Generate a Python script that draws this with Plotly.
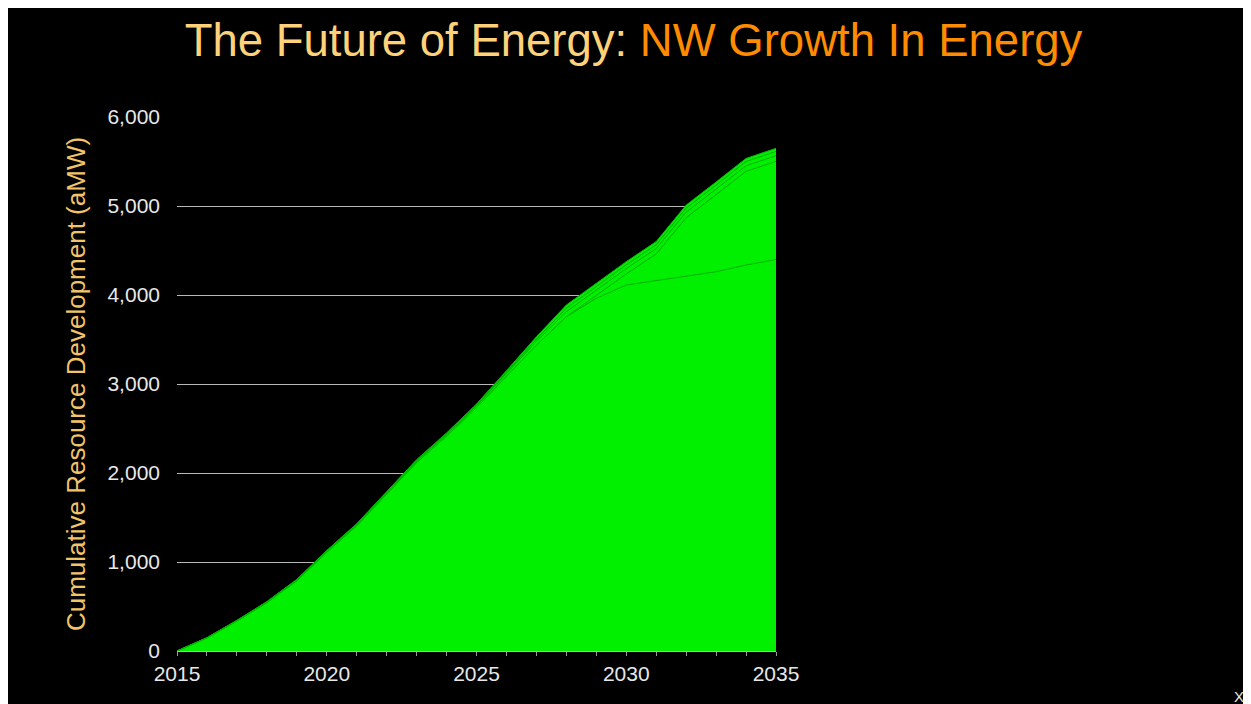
import plotly.graph_objects as go

years = list(range(2015, 2036))

# Stacked layers (aMW), bottom to top
layer1 = [0, 146, 337, 543, 789, 1110, 1406, 1762, 2118, 2414, 2735, 3088, 3436, 3757, 3963, 4112, 4160, 4210, 4262, 4337, 4400]
layer2 = [0, 0, 0, 0, 0, 0, 0, 0, 0, 0, 0, 0, 0, 0, 38, 125, 302, 659, 866, 1053, 1101]
layer3 = [0, 2, 4, 6, 8, 10, 12, 14, 16, 18, 20, 30, 42, 56, 58, 60, 60, 62, 62, 63, 64]
layer4 = [0, 1, 2, 3, 4, 5, 6, 7, 8, 9, 10, 16, 26, 38, 40, 42, 43, 44, 45, 47, 48]
layer5 = [0, 1, 2, 3, 4, 5, 6, 7, 8, 9, 10, 16, 26, 37, 36, 36, 35, 35, 35, 35, 35]
layers = [layer1, layer2, layer3, layer4, layer5]

y_ticks = [0, 1000, 2000, 3000, 4000, 5000, 6000]
x_ticks = [2015, 2020, 2025, 2030, 2035]

OFF = 8  # page body margin
W, H = 1251 - OFF, 704 - OFF
L = 177 - OFF
T = 117 - OFF
R = W - (776 - OFF)
B = H - (651 - OFF)
pw, ph = W - L - R, H - T - B

def px_x(p):
    return (p - OFF - L) / pw

def px_y(p):
    return (H - B - (p - OFF)) / ph

fig = go.Figure()
for i, vals in enumerate(layers):
    fig.add_trace(go.Scatter(
        x=years, y=vals, stackgroup="one", mode="lines",
        line=dict(color="#00B800", width=1),
        fillcolor="#00F000", name=f"Layer {i+1}", hoverinfo="x+y",
    ))

fig.update_layout(
    width=W, height=H,
    margin=dict(l=L, r=R, t=T, b=B),
    paper_bgcolor="#000000", plot_bgcolor="#000000",
    showlegend=False,
    font=dict(family="Liberation Sans, Arial, sans-serif", color="#E8E8E8"),
    title=dict(
        text="<span style='color:#FFD27A'>The Future of Energy: </span>"
             "<span style='color:#FF8C00'>NW Growth In Energy</span>",
        font=dict(size=45.5, family="Liberation Sans, Arial, sans-serif"),
        x=(633.5 - OFF) / W, xref="container", xanchor="center",
        y=1 - (40 - OFF) / H, yref="container", yanchor="middle",
    ),
    xaxis=dict(
        range=[2015, 2035], tickvals=x_ticks, ticktext=[str(v) for v in x_ticks],
        showgrid=False, zeroline=False, showline=False,
        ticks="outside", ticklen=4, tickcolor="#999999", tickwidth=1,
        minor=dict(dtick=1, ticks="outside", ticklen=4, tickcolor="#999999", showgrid=False),
        tickfont=dict(size=21, color="#E8E8E8"),
    ),
    yaxis=dict(
        range=[0, 6000], tickvals=y_ticks, tickformat=",d",
        showgrid=True, gridcolor="#B8B8B8", gridwidth=1,
        zeroline=True, zerolinecolor="#B8B8B8", zerolinewidth=1,
        showline=False, ticks="", ticklabelstandoff=16,
        tickfont=dict(size=21, color="#E8E8E8"),
        title=dict(text="Cumulative Resource Development (aMW)",
                   font=dict(size=26, color="#F2C46A"), standoff=14),
    ),
    annotations=[
        dict(text="X", x=px_x(1239), y=px_y(696), xref="paper", yref="paper",
             showarrow=False, font=dict(size=15, color="#E8E8E8"),
             xanchor="center", yanchor="middle"),
    ],
)

fig.write_html("out.html")
